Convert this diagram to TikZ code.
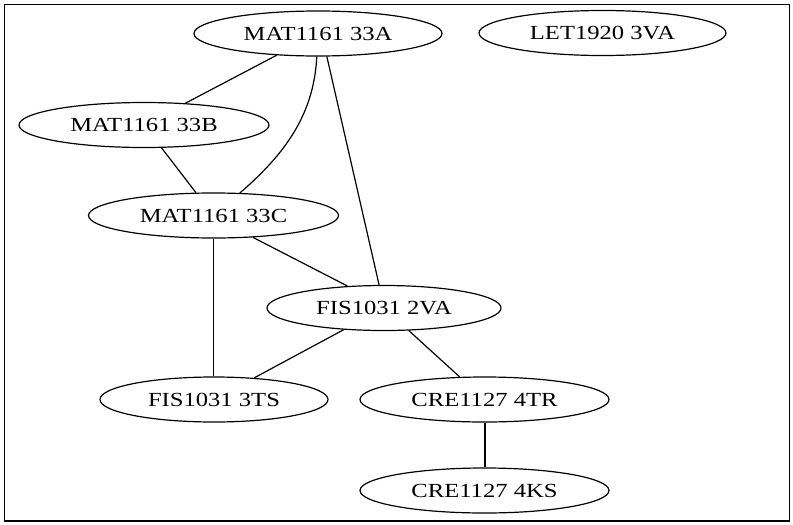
\documentclass[tikz,border=0pt]{standalone}
\usepackage{fontspec}
\setmainfont{Liberation Serif}
\usetikzlibrary{shapes.geometric}
\tikzset{
  course/.style={draw, ellipse, line width=1.2pt, inner sep=0pt,
    minimum height=45pt, font=\fontsize{20}{22}\selectfont},
  link/.style={line width=1.2pt},
  thicklink/.style={line width=2pt},
}
\newcommand{\wlab}[1]{\scalebox{1.23}[1]{#1}}
\begin{document}
\begin{tikzpicture}[x=1pt,y=-1pt]
\useasboundingbox (0,0) rectangle (793,525);
\draw[line width=1.6pt] (4.5,4.3) rectangle (789.5,521);
\node[course, minimum width=248pt] (a) at (318,33.5) {\wlab{MAT1161 33A}};
\node[course, minimum width=247pt] (l) at (602.5,33) {\wlab{LET1920 3VA}};
\node[course, minimum width=250pt] (b) at (144,125) {\wlab{MAT1161 33B}};
\node[course, minimum width=250pt] (c) at (213.5,215.5) {\wlab{MAT1161 33C}};
\node[course, minimum width=234pt] (v) at (384,308) {\wlab{FIS1031 2VA}};
\node[course, minimum width=228pt] (t) at (214,399.5) {\wlab{FIS1031 3TS}};
\node[course, minimum width=249pt] (r) at (484.5,399.5) {\wlab{CRE1127 4TR}};
\node[course, minimum width=249pt] (k) at (484.5,490.5) {\wlab{CRE1127 4KS}};
\draw[link] (a) -- (b);
\draw[link] (a) .. controls (314,110) and (290,150) .. (c);
\draw[link] (a.-69) -- (v.102);
\draw[link] (b) -- (c);
\draw[link] (c.-29) -- (v.149);
\draw[link] (c) -- (c |- t.north);
\draw[link] (v) -- (t);
\draw[link] (v) -- (r);
\draw[thicklink] (r) -- (k);
\end{tikzpicture}
\end{document}
